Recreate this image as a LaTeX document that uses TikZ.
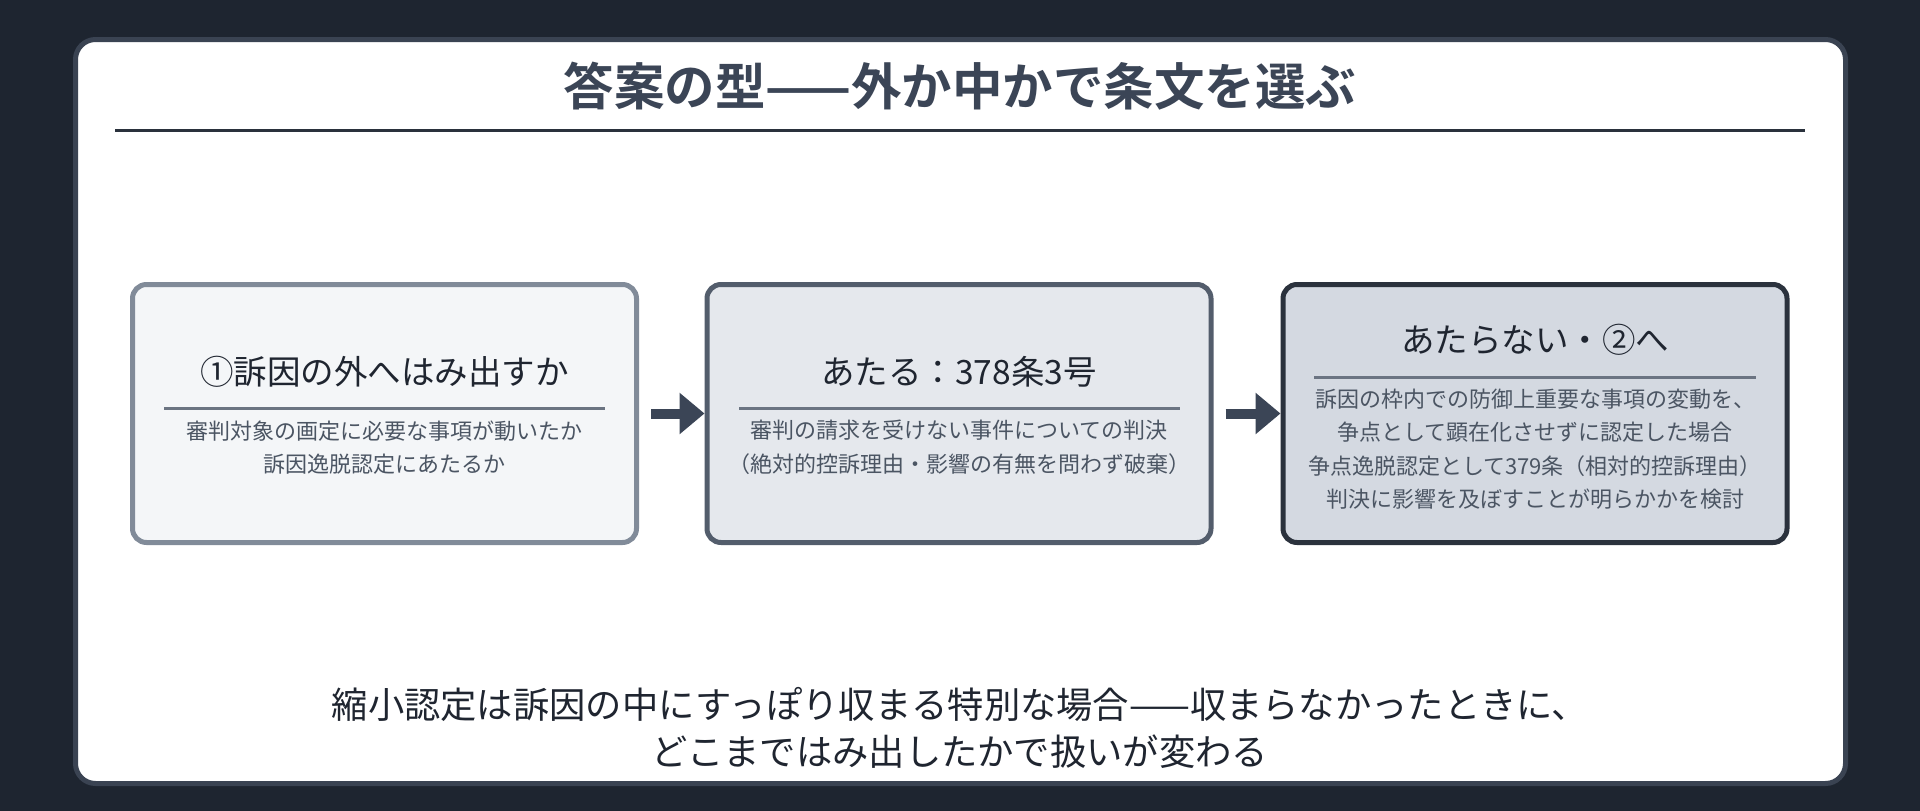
\documentclass[tikz,border=0pt]{standalone}
\usepackage{fontspec}
\setmainfont{Noto Sans CJK JP}[BoldFont={Noto Sans CJK JP Bold}]
\usetikzlibrary{arrows.meta}
\definecolor{bgdark}{HTML}{1E2530}
\definecolor{paneledge}{HTML}{3A4352}
\definecolor{titleink}{HTML}{3B4556}
\definecolor{titlerule}{HTML}{2A313C}
\definecolor{headink}{HTML}{1F2530}
\definecolor{subink}{HTML}{4B5563}
\definecolor{rulegray}{HTML}{6B7482}
\definecolor{arrowink}{HTML}{3B4556}
\definecolor{boxafill}{HTML}{F4F6F8}
\definecolor{boxaedge}{HTML}{818B99}
\definecolor{boxbfill}{HTML}{E5E8ED}
\definecolor{boxbedge}{HTML}{535D6C}
\definecolor{boxcfill}{HTML}{D4D9E1}
\definecolor{boxcedge}{HTML}{2B323D}

\begin{document}
\begin{tikzpicture}[x=1pt,y=-1pt,
	stepbox/.style={draw, rounded corners=14pt, line width=5pt, minimum width=504pt, minimum height=258pt, inner sep=0pt},
	headtext/.style={font=\fontsize{33.5}{40}\selectfont, text=headink, inner sep=0pt},
	subtext/.style={font=\fontsize{22}{33.5}\selectfont, text=subink, align=center, inner sep=0pt},
	steprule/.style={line width=3pt, draw=rulegray},
	flowarrow/.style={line width=10pt, draw=arrowink, -{Triangle[length=25pt,width=40pt]}}]
			%%%%% START %%%%%
			
			\fill[bgdark] (0,0) rectangle (1920,811);
			\useasboundingbox (0,0) rectangle (1920,811);
			
			\draw[line width=5pt, draw=paneledge, fill=white, rounded corners=20pt] (75.5,39.5) rectangle (1845.5,783.5);
			
			\node[text=titleink, inner sep=0pt] (title) at (960,86) {\fontsize{50.5}{60}\selectfont\bfseries 答案の型——外か中かで条文を選ぶ};
			\draw[line width=3pt, draw=titlerule] (115,130) -- (1805,130);
			
			\node[stepbox, fill=boxafill, draw=boxaedge] (outside) at (384.5,413.5) {};
			\node[stepbox, fill=boxbfill, draw=boxbedge] (applies) at (959,413.5) {};
			\node[stepbox, fill=boxcfill, draw=boxcedge] (notapply) at (1535,413.5) {};
			
			\node[headtext] (outsidehead) at (384.5,372) {①訴因の外へはみ出すか};
			\draw[steprule] (164,408) -- (605,408);
			\node[subtext] (outsidesub) at (384.5,447.5) {審判対象の画定に必要な事項が動いたか\\訴因逸脱認定にあたるか};
			
			\node[headtext] (applieshead) at (959,372) {あたる：378条3号};
			\draw[steprule] (739,408) -- (1180,408);
			\node[subtext] (appliessub) at (959,447.5) {審判の請求を受けない事件についての判決\\（絶対的控訴理由・影響の有無を問わず破棄）};
			
			\node[headtext] (notapplyhead) at (1535,340) {あたらない・②へ};
			\draw[steprule] (1314,377) -- (1756,377);
			\node[subtext] (notapplysub) at (1535,449) {訴因の枠内での防御上重要な事項の変動を、\\争点として顕在化させずに認定した場合\\争点逸脱認定として379条（相対的控訴理由）\\判決に影響を及ぼすことが明らかかを検討};
			
			\draw[flowarrow] ([xshift=12pt]outside.east) -- (applies.west);
			\draw[flowarrow] ([xshift=12pt]applies.east) -- (notapply.west);
			
			\node[text=headink, align=center, inner sep=0pt, font=\fontsize{36.3}{47}\selectfont] (footer) at (960,728) {縮小認定は訴因の中にすっぽり収まる特別な場合——収まらなかったときに、\\どこまではみ出したかで扱いが変わる};
			
			%%%%% END %%%%%
\end{tikzpicture}
\end{document}
